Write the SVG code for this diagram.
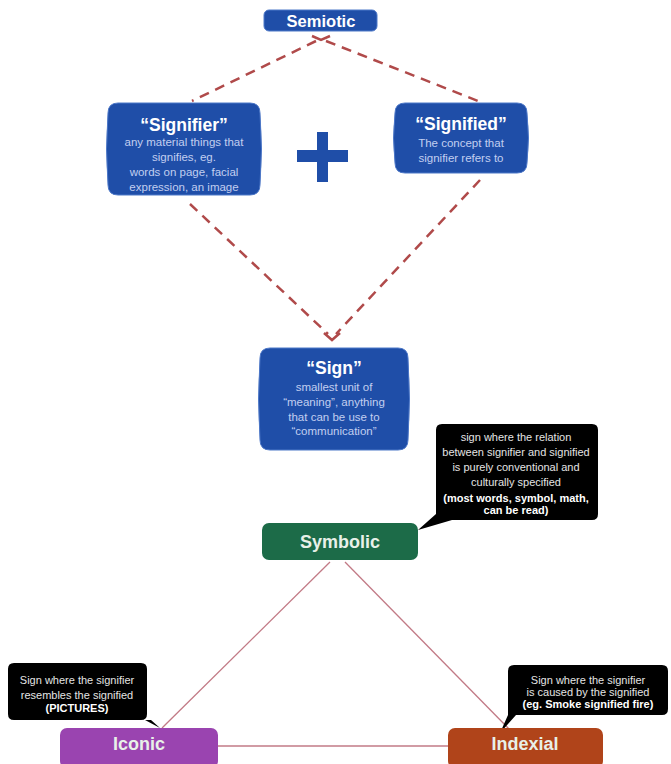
<svg xmlns="http://www.w3.org/2000/svg" width="671" height="764" viewBox="0 0 671 764">
<style>
text{font-family:"Liberation Sans",Arial,sans-serif;text-anchor:middle}
.blue{fill:#1f4ea8;stroke:#4d78c8;stroke-width:1}
.title{font-weight:bold;fill:#ffffff;font-size:17.5px}
.sub{fill:#c2cff0;font-size:11.5px}
.dash{fill:none;stroke:#b04a4a;stroke-width:2.5;stroke-dasharray:10 7}
.tri{fill:none;stroke:#c27a86;stroke-width:1.3}
.call{fill:#000000}
.ct{fill:#e4e4e4;font-size:11px}
.cb{fill:#ffffff;font-size:11px;font-weight:bold}
.lbl{font-weight:bold;fill:#e8f0e8;font-size:18px}
</style>
<rect width="671" height="764" fill="#ffffff"/>
<g id="connectors">
<path class="dash" d="M316 41 L192 101"/>
<path class="dash" d="M326 41 L478 101"/>
<path class="dash" d="M312 36 L321 40 L330 36" style="stroke-dasharray:none"/>
<path class="dash" d="M190 204 L328 334"/>
<path class="dash" d="M480 180 L336 334"/>
<path class="dash" d="M324 333 L332 340 L340 333" style="stroke-dasharray:none"/>
<path class="tri" d="M330 562 L162 728"/>
<path class="tri" d="M345 562 L510 730"/>
<path class="tri" d="M218 746 L448 746"/>
</g>
<g id="semiotic">
<rect class="blue" x="264" y="10" width="113" height="21" rx="5"/>
<text class="title" x="321" y="27" style="font-size:16.5px">Semiotic</text>
</g>
<g id="signifier">
<path class="blue" d="M118 103 H250 Q260 103 260 113 Q263 149 260 185 Q260 195 250 195 H118 Q108 195 108 185 Q105 149 108 113 Q108 103 118 103 Z"/>
<text class="title" x="184" y="131">“Signifier”</text>
<text class="sub" x="184" y="146">any material things that</text>
<text class="sub" x="184" y="161">signifies, eg.</text>
<text class="sub" x="184" y="176">words on page, facial</text>
<text class="sub" x="184" y="191">expression, an image</text>
</g>
<g id="plus">
<rect x="297" y="150" width="51" height="12" fill="#1f4ea8"/>
<rect x="317" y="132" width="11" height="50" fill="#1f4ea8"/>
</g>
<g id="signified">
<path class="blue" d="M405 103 H517 Q527 103 527 113 Q530 138 527 163 Q527 173 517 173 H405 Q395 173 395 163 Q392 138 395 113 Q395 103 405 103 Z"/>
<text class="title" x="461" y="130">“Signified”</text>
<text class="sub" x="461" y="147">The concept that</text>
<text class="sub" x="461" y="162">signifier refers to</text>
</g>
<g id="sign">
<path class="blue" d="M270 348 H398 Q408 348 408 358 Q411 399 408 440 Q408 450 398 450 H270 Q260 450 260 440 Q257 399 260 358 Q260 348 270 348 Z"/>
<text class="title" x="334" y="374">“Sign”</text>
<text class="sub" x="334" y="391">smallest unit of</text>
<text class="sub" x="334" y="406">“meaning”, anything</text>
<text class="sub" x="334" y="421">that can be use to</text>
<text class="sub" x="334" y="435">“communication”</text>
</g>
<g id="symbolic-note">
<path class="call" d="M436 424 H592 Q598 424 598 430 V514 Q598 520 592 520 H452 L418 530 L436 514 V430 Q436 424 442 424 Z"/>
<text class="ct" x="516" y="441">sign where the relation</text>
<text class="ct" x="516" y="456">between signifier and signified</text>
<text class="ct" x="516" y="471">is purely conventional and</text>
<text class="ct" x="516" y="486">culturally specified</text>
<text class="cb" x="516" y="502">(most words, symbol, math,</text>
<text class="cb" x="516" y="514">can be read)</text>
</g>
<g id="symbolic">
<rect x="262" y="523" width="156" height="37" rx="7" fill="#1c6b48"/>
<text class="lbl" x="340" y="548">Symbolic</text>
</g>
<g id="iconic-note">
<path class="call" d="M14 663 H141 Q147 663 147 669 V714 Q147 720 141 720 H145 L160 728 L151 720 H14 Q8 720 8 714 V669 Q8 663 14 663 Z"/>
<text class="ct" x="77" y="684">Sign where the signifier</text>
<text class="ct" x="77" y="699">resembles the signified</text>
<text class="cb" x="77" y="712">(PICTURES)</text>
</g>
<g id="iconic">
<rect x="60" y="728" width="158" height="40" rx="7" fill="#9a44b0"/>
<text class="lbl" x="139" y="750">Iconic</text>
</g>
<g id="indexial-note">
<path class="call" d="M514 665 H662 Q668 665 668 671 V709 Q668 715 662 715 H516 L500 733 L508 715 V671 Q508 665 514 665 Z"/>
<text class="ct" x="588" y="684">Sign where the signifier</text>
<text class="ct" x="588" y="696">is caused by the signified</text>
<text class="cb" x="588" y="708">(eg. Smoke signified fire)</text>
</g>
<g id="indexial">
<rect x="448" y="728" width="155" height="40" rx="7" fill="#b0441a"/>
<text class="lbl" x="525" y="750">Indexial</text>
</g>
</svg>
